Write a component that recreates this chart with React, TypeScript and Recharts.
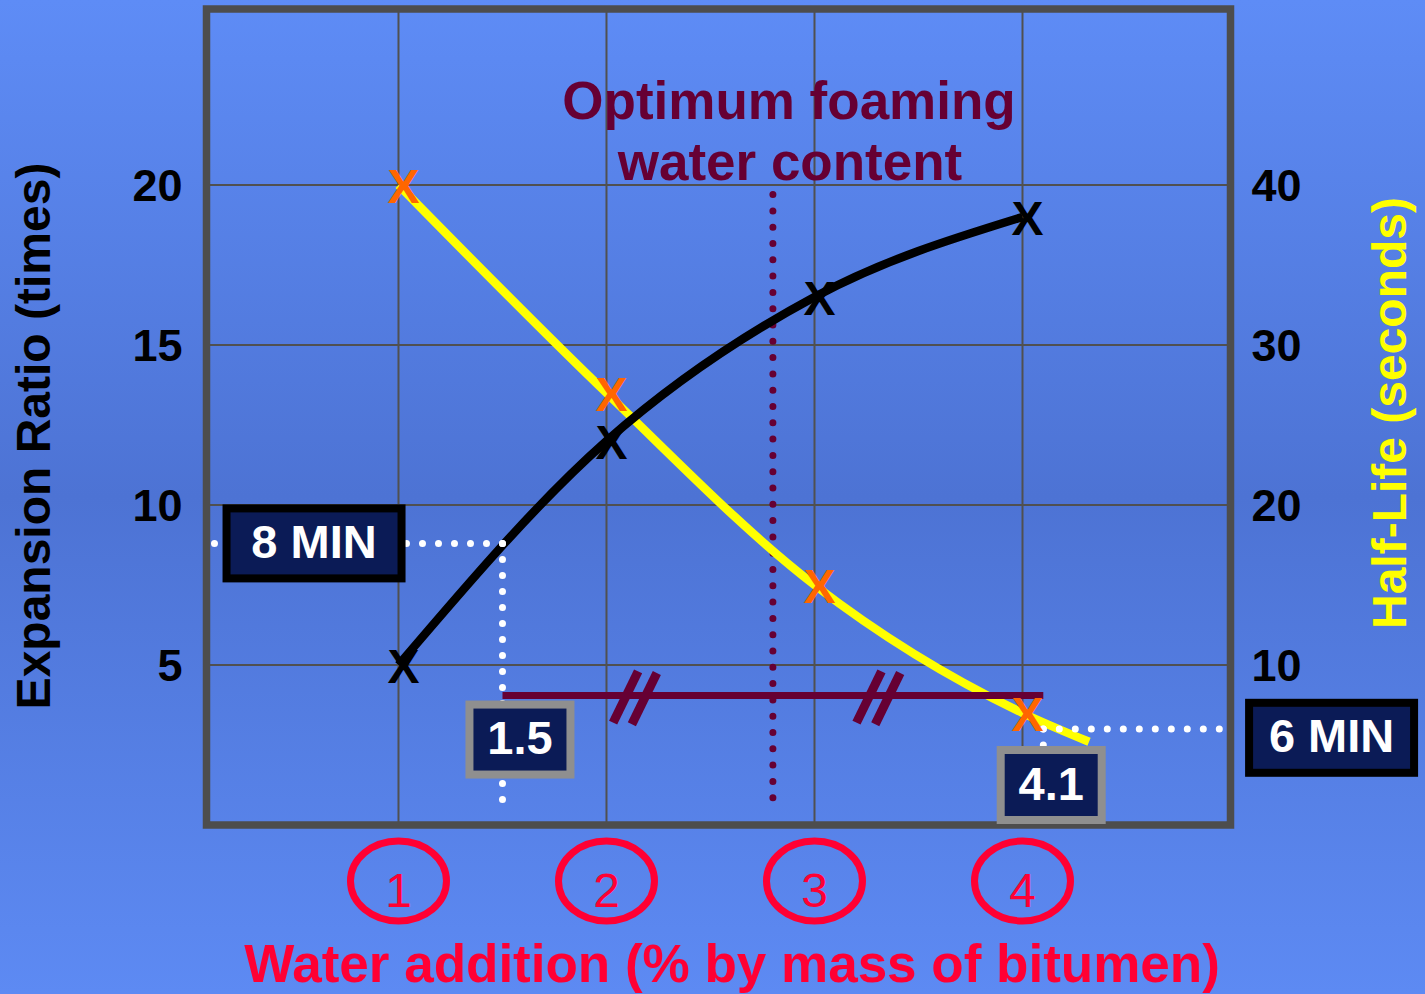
import React from "react";
import {
  ComposedChart,
  Line,
  XAxis,
  YAxis,
  CartesianGrid,
  ReferenceLine,
  ReferenceArea,
  ReferenceDot,
  Customized,
} from "recharts";

// water addition (% by mass of bitumen); last point only continues the half-life curve
const waterAddition = [1, 2, 3, 4, 4.32];
const expansionRatio = [5, 12, 16.5, 19, null];
const halfLife = [40, 27, 15, 7, 5.2];

const waterTicks = [1, 2, 3, 4];
const ratioTicks = [5, 10, 15, 20];
const halfLifeTicks = [10, 20, 30, 40];

// foaming window
const rangeLow = 1.5;
const rangeHigh = 4.1;
const optimumWater = 2.8;
const rangeLevel = 4.05;
const ratioAtLow = 8.8;
const minHalfLife = 6;
const slashMarks = [2.14, 3.31];

const rows = waterAddition.map((w, i) => ({
  water: w,
  ratio: expansionRatio[i],
  halfLife: halfLife[i],
}));

const FONT = "'Liberation Sans', Arial, Helvetica, sans-serif";
const NAVY = "#0b1b56";
const MAROON = "#660033";
const RED = "#ff0033";

const xMark = (color: string) => (props: any) => {
  const { cx, cy, index, payload } = props;
  if (cx == null || cy == null || payload.water > 4) return <g key={index} />;
  return (
    <text
      key={index}
      x={cx + 5}
      y={cy + 1}
      textAnchor="middle"
      dominantBaseline="central"
      fontSize={48}
      fontWeight="bold"
      fontFamily={FONT}
      fill={color}
    >
      X
    </text>
  );
};

function CircledTick({ x, y, payload }: any) {
  return (
    <g>
      <ellipse cx={x} cy={y + 56} rx={48} ry={40} fill="none" stroke={RED} strokeWidth={7} />
      <text
        x={x}
        y={y + 65}
        textAnchor="middle"
        dominantBaseline="central"
        fontSize={48}
        fontFamily={FONT}
        fill={RED}
      >
        {payload.value}
      </text>
    </g>
  );
}

const valueBox = (text: string, border: string, w: number) => (props: any) => {
  const { cx, cy } = props;
  const h = 78;
  const bw = 8;
  return (
    <g>
      <rect
        x={cx - w / 2 + bw / 2}
        y={cy - h / 2 + bw / 2}
        width={w - bw}
        height={h - bw}
        fill={NAVY}
        stroke={border}
        strokeWidth={bw}
      />
      <text
        x={cx}
        y={cy - 2}
        textAnchor="middle"
        dominantBaseline="central"
        fill="#ffffff"
        fontSize={47}
        fontWeight="bold"
        fontFamily={FONT}
      >
        {text}
      </text>
    </g>
  );
};

function Annotations() {
  return (
    <g fontFamily={FONT} fontWeight="bold">
      <text x={50} y={436} transform="rotate(-90 50 436)" textAnchor="middle" fontSize={48} fill="#000">
        Expansion Ratio (times)
      </text>
      <text x={1406} y={413} transform="rotate(-90 1406 413)" textAnchor="middle" fontSize={48} fill="#ffff00">
        Half-Life (seconds)
      </text>
      <text x={789} y={119} textAnchor="middle" fontSize={53} fill={MAROON}>
        Optimum foaming
      </text>
      <text x={790} y={180} textAnchor="middle" fontSize={53} fill={MAROON}>
        water content
      </text>
      <text x={732} y={982} textAnchor="middle" fontSize={53} fill={RED}>
        Water addition (% by mass of bitumen)
      </text>
    </g>
  );
}

const dotted = {
  stroke: "#ffffff",
  strokeWidth: 7,
  strokeDasharray: "0 16",
  strokeLinecap: "round" as const,
};

export default function App() {
  return (
    <div
      style={{
        position: "fixed",
        left: 0,
        top: 0,
        width: 1425,
        height: 994,
        overflow: "hidden",
        background: "linear-gradient(to bottom, #5e8cf6 0%, #4d73d4 50%, #5d8af3 100%)",
      }}
    >
      <ComposedChart
        width={1425}
        height={994}
        data={rows}
        margin={{ top: 9, right: 0, bottom: 0, left: 0 }}
      >
        <CartesianGrid
          yAxisId="left"
          stroke="#505050"
          strokeWidth={2}
          horizontalValues={ratioTicks}
          verticalValues={waterTicks}
        />
        <XAxis
          dataKey="water"
          type="number"
          domain={[0.077, 5]}
          allowDataOverflow
          ticks={waterTicks}
          tick={<CircledTick />}
          tickSize={0}
          tickMargin={0}
          tickLine={false}
          axisLine={false}
          height={169}
        />
        <YAxis
          yAxisId="left"
          domain={[0, 25.5]}
          allowDataOverflow
          ticks={ratioTicks}
          width={206.5}
          tickSize={0}
          tickMargin={24}
          tickLine={false}
          axisLine={false}
          tick={{ fill: "#000", fontSize: 45, fontWeight: "bold", fontFamily: FONT }}
        />
        <YAxis
          yAxisId="right"
          orientation="right"
          domain={[0, 51]}
          allowDataOverflow
          ticks={halfLifeTicks}
          width={194.5}
          tickSize={0}
          tickMargin={21}
          tickLine={false}
          axisLine={false}
          tick={{ fill: "#000", fontSize: 45, fontWeight: "bold", fontFamily: FONT }}
        />
        <ReferenceArea
          yAxisId="left"
          x1={0.077}
          x2={5}
          y1={0}
          y2={25.5}
          fill="none"
          stroke="#4d4d4d"
          strokeWidth={7.5}
          ifOverflow="visible"
        />
        <ReferenceLine
          yAxisId="left"
          segment={[
            { x: optimumWater, y: 19.7 },
            { x: optimumWater, y: 0.6 },
          ]}
          stroke={MAROON}
          strokeWidth={7}
          strokeDasharray="0 16.3"
          strokeLinecap="round"
        />
        <Line
          yAxisId="right"
          type="monotone"
          dataKey="halfLife"
          stroke="#ffff00"
          strokeWidth={8.5}
          dot={xMark("#ff6600")}
          activeDot={false}
          isAnimationActive={false}
        />
        <Line
          yAxisId="left"
          type="monotone"
          dataKey="ratio"
          stroke="#000000"
          strokeWidth={8.5}
          dot={xMark("#000000")}
          activeDot={false}
          isAnimationActive={false}
        />
        <ReferenceLine
          yAxisId="left"
          segment={[
            { x: rangeLow, y: rangeLevel },
            { x: rangeHigh, y: rangeLevel },
          ]}
          stroke={MAROON}
          strokeWidth={7}
        />
        {slashMarks.flatMap((c) => [
          <ReferenceLine
            key={`a${c}`}
            yAxisId="left"
            segment={[
              { x: c - 0.108, y: 3.2 },
              { x: c + 0.012, y: 4.8 },
            ]}
            stroke={MAROON}
            strokeWidth={9}
          />,
          <ReferenceLine
            key={`b${c}`}
            yAxisId="left"
            segment={[
              { x: c - 0.018, y: 3.15 },
              { x: c + 0.102, y: 4.75 },
            ]}
            stroke={MAROON}
            strokeWidth={9}
          />,
        ])}
        <ReferenceLine
          yAxisId="left"
          segment={[
            { x: rangeLow, y: ratioAtLow },
            { x: 0.077, y: ratioAtLow },
          ]}
          {...dotted}
        />
        <ReferenceLine
          yAxisId="left"
          segment={[
            { x: rangeLow, y: ratioAtLow },
            { x: rangeLow, y: 0.4 },
          ]}
          {...dotted}
        />
        <ReferenceLine
          yAxisId="right"
          segment={[
            { x: rangeHigh, y: minHalfLife },
            { x: 5, y: minHalfLife },
          ]}
          {...dotted}
        />
        <ReferenceLine
          yAxisId="right"
          segment={[
            { x: rangeHigh, y: minHalfLife },
            { x: rangeHigh, y: 1 },
          ]}
          {...dotted}
        />
        <ReferenceDot yAxisId="left" x={0.594} y={ratioAtLow} r={1} ifOverflow="visible" shape={valueBox("8 MIN", "#000000", 183)} />
        <ReferenceDot yAxisId="left" x={1.584} y={2.67} r={1} ifOverflow="visible" shape={valueBox(String(rangeLow), "#8f8f8f", 109)} />
        <ReferenceDot yAxisId="left" x={4.138} y={1.25} r={1} ifOverflow="visible" shape={valueBox(String(rangeHigh), "#8f8f8f", 109)} />
        <ReferenceDot yAxisId="right" x={5.486} y={5.45} r={1} ifOverflow="visible" shape={valueBox(`${minHalfLife} MIN`, "#000000", 173)} />
        <Customized component={Annotations} />
      </ComposedChart>
    </div>
  );
}
